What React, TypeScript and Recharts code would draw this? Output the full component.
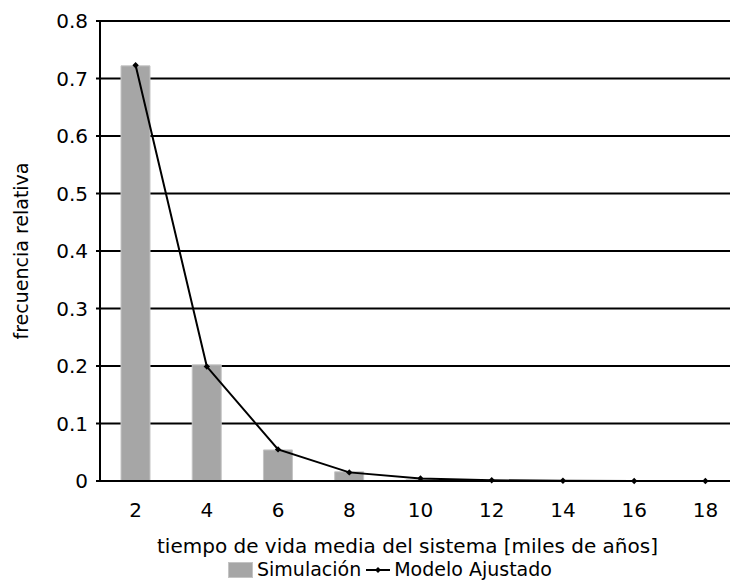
import React from "react";
import {
  ComposedChart,
  Bar,
  Line,
  XAxis,
  YAxis,
  CartesianGrid,
  Legend,
} from "recharts";

// Relative frequency of system mean lifetime (thousands of years)
const categories = ["2", "4", "6", "8", "10", "12", "14", "16", "18"];
const simulacion = [0.722, 0.202, 0.054, 0.016, 0.002, 0.0005, 0, 0, 0];
const modelo = [0.723, 0.199, 0.055, 0.015, 0.0045, 0.0013, 0.0004, 0.0001, 0.00003];
const yTicks = [0, 0.1, 0.2, 0.3, 0.4, 0.5, 0.6, 0.7, 0.8];

const data = categories.map((c, i) => ({
  t: c,
  sim: simulacion[i],
  mod: modelo[i],
}));

const FONT = "'DejaVu Sans', Verdana, sans-serif";
const INK = "#000";
const BAR = "#a6a6a6";
const BAR_EDGE = "#c4c4c4";
const X_TITLE = "tiempo de vida media del sistema [miles de años]";

function Diamond(props: { cx?: number; cy?: number }) {
  const { cx, cy } = props;
  if (cx == null || cy == null) return null;
  const r = 3.2;
  return (
    <path
      d={`M${cx},${cy - r} L${cx + r},${cy} L${cx},${cy + r} L${cx - r},${cy} Z`}
      fill={INK}
      stroke="none"
    />
  );
}

function ChartLegend() {
  return (
    <div style={{ display: "flex", alignItems: "center", fontFamily: FONT, fontSize: 19, lineHeight: "19px", color: "#000", whiteSpace: "nowrap" }}>
      <span style={{ display: "inline-block", width: 25, height: 16, background: BAR, border: `1px solid ${BAR_EDGE}`, boxSizing: "border-box", marginRight: 4 }} />
      <span>Simulación</span>
      <svg width={28} height={16} style={{ marginLeft: 3, marginRight: 2 }}>
        <line x1={2} y1={8} x2={26} y2={8} stroke={INK} strokeWidth={2} />
        <path d="M14,5 L17,8 L14,11 L11,8 Z" fill={INK} />
      </svg>
      <span>Modelo Ajustado</span>
    </div>
  );
}

// x-axis title, a little left of the plot's centre
function XTitle(props: { viewBox?: { x: number; y: number; width: number; height: number } }) {
  const vb = props.viewBox;
  if (!vb) return null;
  return (
    <text
      x={vb.x + vb.width / 2 - 13}
      y={vb.y + vb.height - 8}
      textAnchor="middle"
      fontSize={20}
      fontFamily={FONT}
      fill="#000"
    >
      {X_TITLE}
    </text>
  );
}

export default function App() {
  return (
    <div style={{ position: "absolute", left: 0, top: 0, width: 730, height: 583, overflow: "hidden", background: "#fff" }}>
      <ComposedChart
        width={745}
        height={583}
        data={data}
        margin={{ top: 21, right: 4, left: 0, bottom: 0 }}
        barCategoryGap="0%"
        style={{ fontFamily: FONT }}
      >
        <CartesianGrid vertical={false} stroke={INK} strokeWidth={2} />
        <XAxis
          dataKey="t"
          height={80}
          tickLine={false}
          axisLine={{ stroke: INK, strokeWidth: 2 }}
          tick={{ fontSize: 20, fill: "#000", fontFamily: FONT }}
          tickMargin={16}
          interval={0}
          label={<XTitle />}
        />
        <YAxis
          width={100}
          domain={[0, 0.8]}
          ticks={yTicks}
          interval={0}
          tickSize={4}
          tickLine={{ stroke: INK, strokeWidth: 2 }}
          axisLine={{ stroke: INK, strokeWidth: 2 }}
          tick={{ fontSize: 20, fill: "#000", fontFamily: FONT }}
          tickMargin={8}
          label={{
            value: "frecuencia relativa",
            angle: -90,
            position: "insideLeft",
            offset: 21,
            style: { fontSize: 19, fill: "#000", fontFamily: FONT, textAnchor: "middle" },
          }}
        />
        <Legend
          verticalAlign="bottom"
          height={22}
          content={() => <ChartLegend />}
          wrapperStyle={{ left: 228, top: 560, bottom: "auto", width: "auto" }}
        />
        <Bar
          dataKey="sim"
          name="Simulación"
          fill={BAR}
          stroke={BAR_EDGE}
          strokeWidth={1}
          barSize={29}
          isAnimationActive={false}
        />
        <Line
          dataKey="mod"
          name="Modelo Ajustado"
          type="linear"
          stroke={INK}
          strokeWidth={2}
          dot={<Diamond />}
          activeDot={false}
          isAnimationActive={false}
        />
      </ComposedChart>
    </div>
  );
}
